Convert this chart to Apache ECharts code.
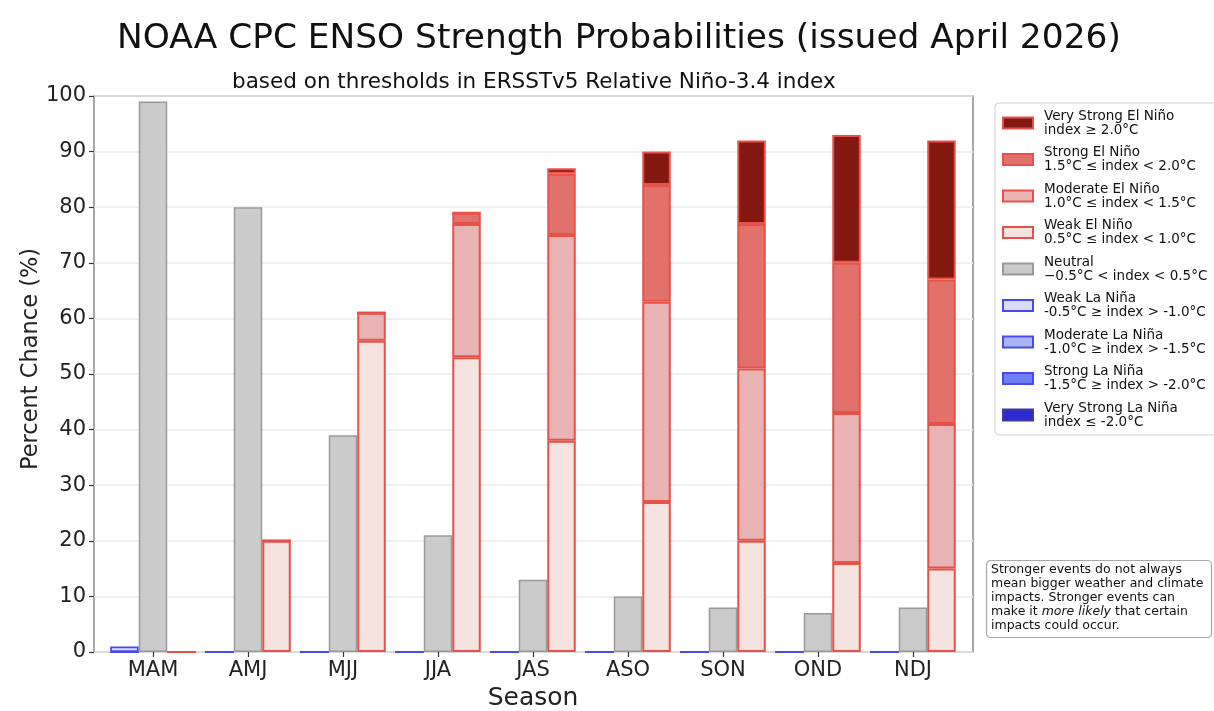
<!DOCTYPE html>
<html>
<head>
<meta charset="utf-8">
<script src="https://cdn.jsdelivr.net/npm/echarts@6/dist/echarts.min.js"></script>
<style>
html,body{margin:0;padding:0;background:#fff;}
#chart{width:1214px;height:711px;}
</style>
</head>
<body>
<div id="chart"></div>
<script>
var seasons = ['MAM','AMJ','MJJ','JJA','JAS','ASO','SON','OND','NDJ'];
var weakNina = [1,0,0,0,0,0,0,0,0];
var modNina = [0,0,0,0,0,0,0,0,0];
var strongNina = [0,0,0,0,0,0,0,0,0];
var vstrongNina = [0,0,0,0,0,0,0,0,0];
var neutral = [99,80,39,21,13,10,8,7,8];
var weakNino = [0,20,56,53,38,27,20,16,15];
var modNino = [0,0,5,24,37,36,31,27,26];
var strongNino = [0,0,0,2,11,21,26,27,26];
var vstrongNino = [0,0,0,0,1,6,15,23,25];
var yTicks = [0,10,20,30,40,50,60,70,80,90,100];

var legendNames = ['Very Strong El Niño','Strong El Niño','Moderate El Niño','Weak El Niño','Neutral','Weak La Niña','Moderate La Niña','Strong La Niña','Very Strong La Niña'];
var legendRanges = ['index ≥ 2.0°C','1.5°C ≤ index < 2.0°C','1.0°C ≤ index < 1.5°C','0.5°C ≤ index < 1.0°C','−0.5°C < index < 0.5°C','-0.5°C ≥ index > -1.0°C','-1.0°C ≥ index > -1.5°C','-1.5°C ≥ index > -2.0°C','index ≤ -2.0°C'];

var FONT = 'DejaVu Sans';
var ninoEdge = '#e6524a';
var ninaEdge = '#4a4aec';

function bar(name, data, stack, fill, edge, bw, z) {
  return {
    name: name, type: 'bar', xAxisIndex: 1, yAxisIndex: 1, stack: stack,
    data: data, barWidth: '30%', barGap: '0%',
    itemStyle: {color: fill, borderColor: edge, borderWidth: bw},
    emphasis: {disabled: true}, z: z || 2
  };
}

var chart = echarts.init(document.getElementById('chart'), null, {renderer: 'canvas'});
chart.setOption({
  animation: false,
  backgroundColor: '#fff',
  textStyle: {fontFamily: FONT},
  title: [
    {text: 'NOAA CPC ENSO Strength Probabilities (issued April 2026)', left: 112, top: 17,
     textStyle: {fontFamily: FONT, fontSize: 34.4, fontWeight: 'normal', color: '#111'}},
    {text: 'based on thresholds in ERSSTv5 Relative Niño-3.4 index', left: 227, top: 66,
     textStyle: {fontFamily: FONT, fontSize: 21.5, fontWeight: 'normal', color: '#111'}},
    {text: 'Stronger events do not always\nmean bigger weather and climate\nimpacts. Stronger events can\nmake it {i|more likely} that certain\nimpacts could occur.',
     left: 986, top: 560, padding: [3, 8, 5, 5],
     borderColor: '#a8a8a8', borderWidth: 1.2, borderRadius: 4, backgroundColor: '#fff',
     textStyle: {fontFamily: FONT, fontSize: 12.5, lineHeight: 14, fontWeight: 'normal', color: '#111',
       rich: {i: {fontFamily: FONT, fontSize: 12.5, lineHeight: 14, fontStyle: 'italic', color: '#111'}}}}
  ],
  legend: {
    orient: 'vertical', left: 995, top: 103,
    data: legendNames,
    icon: 'rect', itemWidth: 30, itemHeight: 11, itemGap: 8.5,
    padding: [6, 10, 6, 7],
    borderColor: '#d0d0d0', borderWidth: 1, borderRadius: 4, backgroundColor: '#fff',
    selectedMode: false,
    formatter: function (n) { return n + '\n' + legendRanges[legendNames.indexOf(n)]; },
    textStyle: {fontFamily: FONT, fontSize: 13.5, lineHeight: 14, color: '#111', padding: [0, 0, 0, 6]}
  },
  grid: [
    {left: 94, top: 96, width: 879, height: 556, show: true, borderColor: '#8a8a8a', borderWidth: 1.5, backgroundColor: 'transparent', containLabel: false, outerBoundsMode: 'none'},
    {left: 105.5, top: 96, width: 855, height: 556, containLabel: false, outerBoundsMode: 'none'}
  ],
  xAxis: [
    {type: 'value', gridIndex: 0, min: 0, max: 1, show: false},
    {type: 'category', gridIndex: 1, data: seasons, boundaryGap: true,
     axisLine: {show: false},
     axisTick: {show: true, alignWithLabel: true, length: 5, lineStyle: {color: '#333', width: 1.2}},
     axisLabel: {fontFamily: FONT, fontSize: 21, color: '#222', margin: 8},
     name: 'Season', nameLocation: 'middle', nameGap: 33,
     nameTextStyle: {fontFamily: FONT, fontSize: 25, color: '#222'}}
  ],
  yAxis: [
    {type: 'value', gridIndex: 0, min: 0, max: 100, interval: 10,
     axisLine: {show: false},
     axisTick: {show: true, length: 5, lineStyle: {color: '#333', width: 1.2}},
     axisLabel: {fontFamily: FONT, fontSize: 21, color: '#222', margin: 8,
       formatter: function (v) { return yTicks.indexOf(v) >= 0 ? String(v) : ''; }},
     splitLine: {show: true, lineStyle: {color: '#ebebeb', width: 1.5}}},
    {type: 'value', gridIndex: 1, min: 0, max: 100, show: false, splitLine: {show: false}}
  ],
  graphic: [
    {type: 'text', x: 31, y: 359, rotation: Math.PI / 2,
     style: {text: 'Percent Chance (%)', fontFamily: FONT, fontSize: 22.5, fill: '#222', align: 'center', verticalAlign: 'middle'}}
  ],
  series: [
    bar('Very Strong La Niña', vstrongNina, 'nina', '#2b2bd0', '#3d3d9c', 1.5),
    bar('Strong La Niña', strongNina, 'nina', '#6d7ef4', ninaEdge, 1.5),
    bar('Moderate La Niña', modNina, 'nina', '#a9b6f5', ninaEdge, 1.5),
    bar('Weak La Niña', weakNina, 'nina', '#dcdcfa', ninaEdge, 1.8),
    bar('Neutral', neutral, 'neutral', '#cbcbcb', '#9a9a9a', 1.5),
    bar('Weak El Niño', weakNino, 'nino', '#f5e3e0', ninoEdge, 2),
    bar('Moderate El Niño', modNino, 'nino', '#e9b3b3', ninoEdge, 2),
    bar('Strong El Niño', strongNino, 'nino', '#e2706b', ninoEdge, 2),
    bar('Very Strong El Niño', vstrongNino, 'nino', '#84170f', ninoEdge, 2)
  ]
});
</script>
</body>
</html>
